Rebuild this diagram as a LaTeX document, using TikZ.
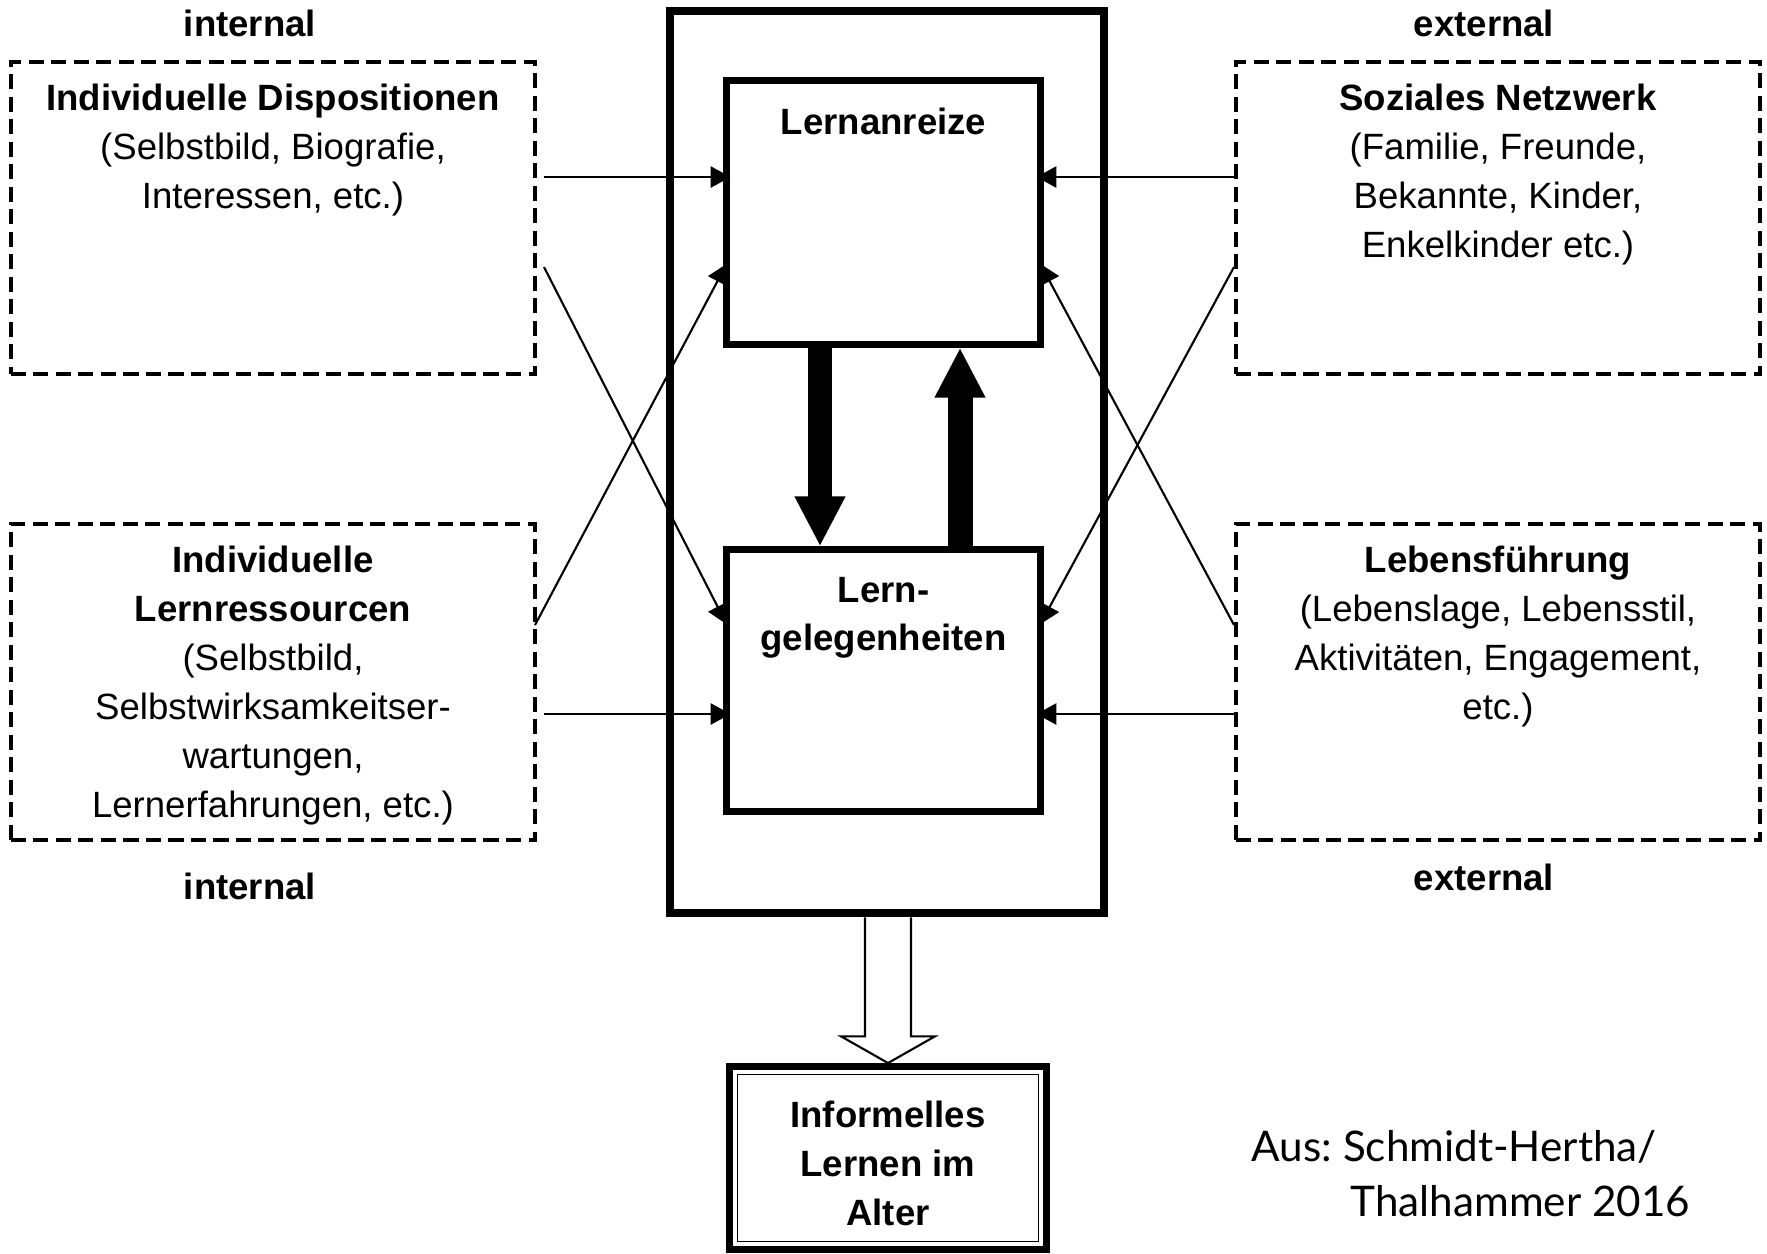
\documentclass[tikz,border=0pt]{standalone}
\usepackage{fontspec}
\setmainfont{Liberation Sans}
\newfontfamily\citefont{Lato}
\usetikzlibrary{arrows.meta,calc}
\newcommand{\bxt}[4]{\begin{minipage}[t][#1][t]{#2}\centering\vspace*{#3}\strut#4\end{minipage}}
\begin{document}
\begin{tikzpicture}[x=0.01cm,y=-0.01cm,font=\fontsize{10.4}{13.9}\selectfont]
\tikzset{
  dbox/.style={draw, line width=1.1pt, dash pattern=on 4.3pt off 2.1pt, inner sep=0pt},
  sbox/.style={draw, line width=2pt, inner sep=0pt},
  outerbox/.style={draw, line width=2.3pt, minimum width=4.34cm, minimum height=9.02cm, inner sep=0pt},
  thinarr/.style={line width=0.6pt, shorten >=-2pt, -{Triangle[length=5.6pt,width=6pt]}},
  bigarr/.style={line width=7.1pt, -{Triangle[length=14.2pt,width=13.4pt]}},
  hollow/.style={line width=0.6pt, fill=white},
  lbl/.style={font=\fontsize{10.4}{13.9}\selectfont\bfseries},
  finbox/.style={draw, line width=3.1pt, inner sep=0pt, font=\fontsize{10.4}{13.9}\selectfont\bfseries},
  innerdbl/.style={double, double distance=0.9pt, line width=0.45pt}
}
\useasboundingbox (0,0) rectangle (1767,1253);

% side boxes
\node[dbox] (ltop) at (273,218) {\bxt{3.12cm}{5.24cm}{4.2pt}{\textbf{Individuelle Dispositionen}\\(Selbstbild, Biografie,\\Interessen, etc.)}};
\node[dbox] (rtop) at (1498,218) {\bxt{3.12cm}{5.24cm}{4.2pt}{\textbf{Soziales Netzwerk}\\(Familie, Freunde,\\Bekannte, Kinder,\\Enkelkinder etc.)}};
\node[dbox] (lbot) at (273,682) {\bxt{3.16cm}{5.24cm}{4.2pt}{\textbf{Individuelle}\\\textbf{Lernressourcen}\\(Selbstbild,\\Selbstwirksamkeitser-\\wartungen,\\Lernerfahrungen, etc.)}};
\node[dbox] (rbot) at (1498,682) {\bxt{3.16cm}{5.24cm}{4.2pt}{\textbf{Lebensführung}\\(Lebenslage, Lebensstil,\\Aktivitäten, Engagement,\\etc.)}};

% labels
\node[lbl] (int1) at (250,23) {internal};
\node[lbl] (ext1) at (1484,23) {external};
\node[lbl] (int2) at (250,886) {internal};
\node[lbl] (ext2) at (1484,877) {external};

% center
\node[outerbox] (outer) at (887,462) {};
\node[sbox] (lanr) at (883.5,212.5) {\bxt{2.63cm}{3.13cm}{5.4pt}{\textbf{Lernanreize}}};
\node[sbox] (lern) at (883.5,680.5) {\bxt{2.61cm}{3.13cm}{5.1pt}{\textbf{Lern-}\\\textbf{gelegenheiten}}};

% thin arrows
\coordinate (s1) at (544,177);
\coordinate (s2) at (544,267);
\coordinate (s3) at (535,625);
\coordinate (s4) at (544,714);
\coordinate (e1) at (1234,177);
\coordinate (e2) at (1234,267);
\coordinate (e3) at (1234,625);
\coordinate (e4) at (1234,714);
\coordinate (yA) at (0,270);
\coordinate (yB) at (0,618);
\draw[thinarr] (s1) -- (lanr.west |- s1);
\draw[thinarr] (s2) -- (lern.west |- yB);
\draw[thinarr] (s3) -- (lanr.west |- yA);
\draw[thinarr] (s4) -- (lern.west |- s4);
\draw[thinarr] (e1) -- (lanr.east |- e1);
\draw[thinarr] (e2) -- (lern.east |- yB);
\draw[thinarr] (e3) -- (lanr.east |- yA);
\draw[thinarr] (e4) -- (lern.east |- e4);

% big arrows
\coordinate (dx) at (820,0);
\coordinate (ux) at (960,0);
\draw[bigarr] (lanr.south -| dx) -- (lern.north -| dx);
\draw[bigarr] (lern.north -| ux) -- (lanr.south -| ux);

% final box
\node[finbox] (fin) at (888,1158) {\bxt{1.79cm}{3.13cm}{7.1pt}{Informelles\\Lernen im\\Alter}};
\draw[innerdbl] ([shift={(9,9)}]fin.north west) rectangle ([shift={(-9,-9)}]fin.south east);

% hollow arrow
\draw[hollow] ($(outer.south)+(-22,0)$) -- ($(outer.south)+(-22,119)$) -- ($(outer.south)+(-46,119)$) -- (fin.north) -- ($(outer.south)+(48,119)$) -- ($(outer.south)+(24,119)$) -- ($(outer.south)+(24,0)$);

% citation
\node[anchor=base west, font=\citefont\fontsize{12}{14}\selectfont, inner sep=0pt] (cite1) at (1251,1161) {Aus:\kern-1pt{} Schmidt-Hertha/};
\node[anchor=base west, font=\citefont\fontsize{12}{14}\selectfont, inner sep=0pt] (cite2) at (1350,1216) {Thalhammer 2016};
\end{tikzpicture}
\end{document}
